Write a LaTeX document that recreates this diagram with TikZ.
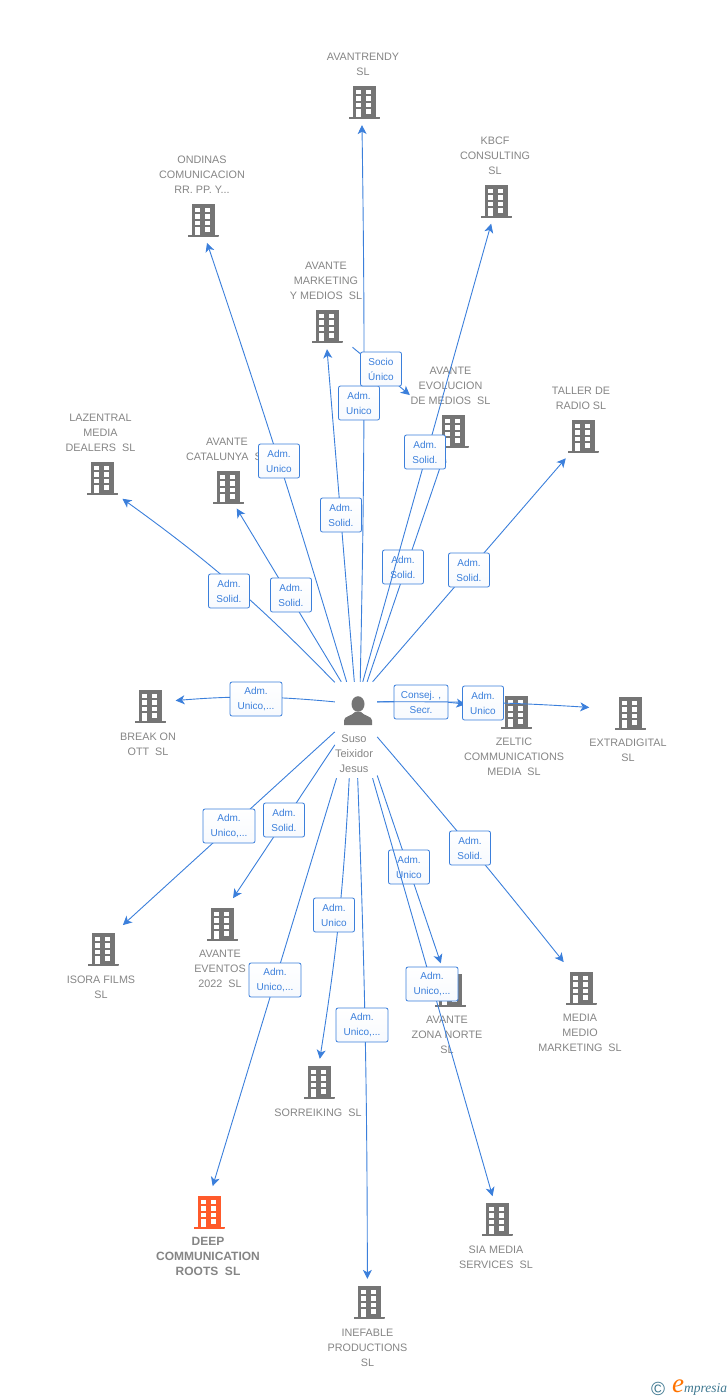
\documentclass[tikz,border=0pt]{standalone}
\usepackage{fontspec}
\setmainfont{Liberation Sans}
\newfontfamily\logofont{Liberation Serif}
\usepackage{tikz}
\usetikzlibrary{arrows.meta,shapes}
\definecolor{linkblue}{HTML}{3B7FDB}
\definecolor{icongrey}{HTML}{757575}
\definecolor{textgrey}{HTML}{858585}
\definecolor{deeporange}{HTML}{FF5A2B}
\definecolor{logoteal}{HTML}{3F7890}
\tikzstyle{link} = [draw=linkblue,line width=0.9pt,->,>={Stealth[length=9pt,width=9pt,inset=2.5pt]}]
\tikzstyle{role} = [draw=linkblue,line width=0.8pt,rounded corners=2pt,top color=white,bottom color=white!96!linkblue,
  text=linkblue,font=\fontsize{10}{15}\selectfont,align=center,inner sep=0pt,minimum height=34pt,minimum width=41pt]
\tikzstyle{widerole} = [role,minimum width=52pt]
\tikzstyle{lbl} = [text=textgrey,font=\fontsize{10.8}{15}\selectfont,align=center,inner sep=0pt]
\tikzset{site/.style={circle,minimum size=46pt,inner sep=0pt,path picture={
  \begin{scope}[shift={(path picture bounding box.center)}]
    \fill[#1] (-11.5,-16) rectangle (11.5,15);
    \fill[#1] (-15.5,14.5) rectangle (15.5,17);
    \foreach \wy in {-12.5,-6,0.5} {
      \fill[white] (-8,\wy) rectangle (-3,\wy+4.5);
      \fill[white] (2,\wy) rectangle (7,\wy+4.5);
    }
    \fill[white] (-8,7) rectangle (-3,15);
    \fill[white] (2,7) rectangle (7,11.5);
  \end{scope}}},
  site/.default=icongrey}
\begin{document}
\begin{tikzpicture}[x=1pt,y=-1pt]
  \useasboundingbox (0,0) rectangle (728,1400);
  % buildings
  \node[site] (avantrendy) at (364,102) {};
  \node[site] (kbcf) at (496,201) {};
  \node[site] (ondinas) at (203,220) {};
  \node[site] (marketing) at (327,326) {};
  \node[site] (evolucion) at (453,431) {};
  \node[site] (taller) at (583,436) {};
  \node[site] (lazentral) at (102,478) {};
  \node[site] (catalunya) at (228,487) {};
  \node[site] (breakon) at (150,706) {};
  \node[site] (zeltic) at (516,712) {};
  \node[site] (extradigital) at (630,713) {};
  \node[site] (isora) at (103,949) {};
  \node[site] (eventos) at (222,924) {};
  \node[site] (medio) at (581,988) {};
  \node[site] (zonanorte) at (450,990) {};
  \node[site] (sorreiking) at (319,1082) {};
  \node[site] (sia) at (497,1219) {};
  \node[site=deeporange] (deep) at (209,1212) {};
  \node[site] (inefable) at (369,1302) {};
  % person
  \node[rectangle,minimum width=42pt,minimum height=96pt,inner sep=0pt,path picture={
    \begin{scope}[shift={(path picture bounding box.center)}]
      \fill[icongrey] (2,-26) ellipse (6.5 and 7.8);
      \fill[icongrey] (-12,-5) -- (-12,-9.5) .. controls (-12,-14) and (-4,-14) .. (-1,-18)
        -- (5,-18) .. controls (8,-14) and (16,-14) .. (16,-9.5) -- (16,-5) -- cycle;
    \end{scope}}] (suso) at (356,730) {};
  % labels
  \node[lbl] (avantrendy-t) at (363,64) {AVANTRENDY\\SL};
  \node[lbl] (kbcf-t) at (495,156) {KBCF\\CONSULTING\\SL};
  \node[lbl] (ondinas-t) at (202,175) {ONDINAS\\COMUNICACION\\RR. PP. Y...};
  \node[lbl] (marketing-t) at (326,281) {AVANTE\\MARKETING\\Y MEDIOS\ \ SL};
  \node[lbl] (evolucion-t) at (450.5,386) {AVANTE\\EVOLUCION\\DE MEDIOS\ \ SL};
  \node[lbl] (taller-t) at (581,398) {TALLER DE\\RADIO SL};
  \node[lbl] (lazentral-t) at (100.5,433) {LAZENTRAL\\MEDIA\\DEALERS\ \ SL};
  \node[lbl] (catalunya-t) at (227,449) {AVANTE\\CATALUNYA\ \ SL};
  \node[lbl] (breakon-t) at (148,744) {BREAK ON\\OTT\ \ SL};
  \node[lbl] (zeltic-t) at (514,757) {ZELTIC\\COMMUNICATIONS\\MEDIA\ \ SL};
  \node[lbl] (extradigital-t) at (628,750) {EXTRADIGITAL\\SL};
  \node[lbl] (isora-t) at (101,987) {ISORA FILMS\\SL};
  \node[lbl] (eventos-t) at (220,969) {AVANTE\\EVENTOS\\2022\ \ SL};
  \node[lbl] (medio-t) at (580,1033) {MEDIA\\MEDIO\\MARKETING\ \ SL};
  \node[lbl] (zonanorte-t) at (447,1035) {AVANTE\\ZONA NORTE\\SL};
  \node[lbl] (sorreiking-t) at (318,1112.5) {SORREIKING\ \ SL};
  \node[lbl] (sia-t) at (496,1257) {SIA MEDIA\\SERVICES\ \ SL};
  \node[lbl,font=\fontsize{12}{15}\selectfont\bfseries] (deep-t) at (208,1256) {DEEP\\COMMUNICATION\\ROOTS\ \ SL};
  \node[lbl] (inefable-t) at (367.5,1348) {INEFABLE\\PRODUCTIONS\\SL};
  \node[lbl,font=\fontsize{11}{15}\selectfont] (suso-t) at (354,754) {Suso\\Teixidor\\Jesus};
  % upper connectors
  \draw[link] (suso.85) to[bend right=1] (avantrendy.265);
  \node[role] (r-avantrendy) at (359,403) {Adm.\\Unico};
  \draw[link] (suso.101) to[bend right=1] (ondinas.280);
  \node[role] (r-ondinas) at (279,461) {Adm.\\Unico};
  \draw[link] (suso.92) -- (marketing.270);
  \node[role] (r-marketing) at (341,515) {Adm.\\Solid.};
  \draw[link,shorten <=10pt,shorten >=33pt] (marketing) -- (evolucion);
  \node[role] (r-socio) at (381,369) {Socio\\Único};
  \draw[link] (suso.77) -- (evolucion.250);
  \node[role] (r-evolucion) at (403,567) {Adm.\\Solid.};
  \draw[link] (suso.82) -- (kbcf.258);
  \node[role] (r-kbcf) at (425,452) {Adm.\\Solid.};
  \draw[link,shorten >=5pt] (suso.71) -- (taller.233);
  \node[role] (r-taller) at (469,570) {Adm.\\Solid.};
  \draw[link,shorten >=6pt] (suso.114) to[bend right=5] (lazentral.312);
  \node[role] (r-lazentral) at (229,591) {Adm.\\Solid.};
  \draw[link] (suso.107) -- (catalunya.292);
  \node[role] (r-catalunya) at (291,595) {Adm.\\Solid.};
  % side connectors
  \draw[link,shorten >=3pt] (suso.127) to[bend right=5] (breakon.13);
  \node[widerole] (r-breakon) at (256,699) {Adm.\\Unico,...};
  \draw[link,shorten >=28pt] (suso.53) to[bend left=5] (zeltic.171);
  \node[role,minimum width=54pt] (r-zeltic) at (421,702) {Consej. ,\\Secr.};
  \draw[link,shorten >=18pt] (suso.53) to[bend left=2] (extradigital.169);
  \node[role] (r-extradigital) at (483,703) {Adm.\\Unico};
  % lower connectors
  \draw[link,shorten >=8pt] (suso.185) -- (isora.53);
  \node[widerole] (r-isora) at (229,826) {Adm.\\Unico,...};
  \draw[link,shorten >=5pt] (suso.215) -- (eventos.69);
  \node[role] (r-eventos) at (284,820) {Adm.\\Solid.};
  \draw[link,shorten >=3pt] (suso.248) -- (deep.83);
  \node[widerole] (r-deep) at (275,980) {Adm.\\Unico,...};
  \draw[link] (suso.262) to[bend left=3] (sorreiking.88);
  \node[role] (r-sorreiking) at (334,915) {Adm.\\Unico};
  \draw[link] (suso.272) to[bend left=1] (inefable.94);
  \node[widerole] (r-inefable) at (362,1025) {Adm.\\Unico,...};
  \draw[link,shorten >=5pt] (suso.295) -- (zonanorte.109);
  \node[role] (r-zonanorte) at (409,867) {Adm.\\Unico};
  \draw[link] (suso.289) -- (sia.101);
  \node[widerole] (r-sia) at (432,984) {Adm.\\Unico,...};
  \draw[link,shorten >=8pt] (suso.342) to[bend left=1] (medio.122);
  \node[role] (r-medio) at (470,848) {Adm.\\Solid.};
  % logo
  \node[text=logoteal,font=\fontsize{19}{19}\selectfont,inner sep=0pt] (logo-c) at (658,1388.5) {©};
  \node[text=orange!90!red,font=\logofont\itshape\fontsize{27}{27}\selectfont,inner sep=0pt] (logo-e) at (678,1386) {e};
  \node[text=logoteal,font=\logofont\itshape\fontsize{13.5}{14}\selectfont,inner sep=0pt,anchor=west] (logo-m) at (684,1389) {mpresia};
\end{tikzpicture}
\end{document}
